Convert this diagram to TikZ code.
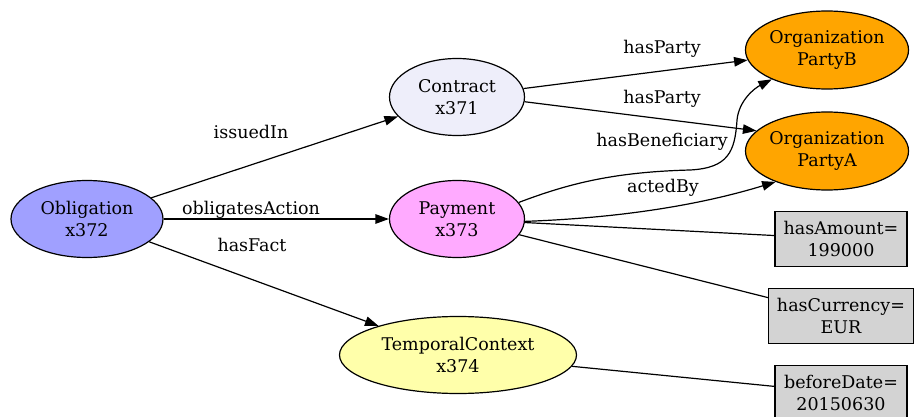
\documentclass[tikz,border=0pt]{standalone}
\usepackage{fontspec}
\setmainfont{DejaVu Serif}
\definecolor{oblcolor}{RGB}{160,160,255}
\definecolor{concolor}{RGB}{238,238,250}
\definecolor{paycolor}{RGB}{255,170,255}
\definecolor{tmpcolor}{RGB}{255,255,170}
\definecolor{orgcolor}{RGB}{255,165,0}
\definecolor{litcolor}{RGB}{211,211,211}
\usetikzlibrary{arrows.meta, shapes.geometric}

\begin{document}
\begin{tikzpicture}[x=1pt, y=-1pt, line width=1.2pt,
    every node/.style={font=\fontsize{17.5}{22}\selectfont},
    obj/.style={ellipse, draw, inner sep=0pt, align=center, minimum height=77pt},
    lit/.style={rectangle, draw, fill=litcolor, align=center, minimum height=55pt, inner xsep=8pt},
    rel/.style={-{Triangle[length=13.5pt, width=9.5pt]}},
    lbl/.style={anchor=base}]
    \useasboundingbox (0,0) rectangle (924,417);

    \node[obj, fill=oblcolor, minimum width=152pt] (obl) at (87,219) {Obligation\\x372};
    \node[obj, fill=concolor, minimum width=135pt] (con) at (457,97) {Contract\\x371};
    \node[obj, fill=paycolor, minimum width=135pt] (pay) at (457,219) {Payment\\x373};
    \node[obj, fill=tmpcolor, minimum width=237pt] (tmp) at (458,355) {TemporalContext\\x374};
    \node[obj, fill=orgcolor, minimum width=158pt, minimum height=78pt] (pb) at (827,50) {Organization\\PartyB};
    \node[obj, fill=orgcolor, minimum width=158pt, minimum height=78pt] (pa) at (827,151) {Organization\\PartyA};
    \node[lit, minimum width=132pt] (amt) at (841,239) {hasAmount=\\199000};
    \node[lit, minimum width=145pt] (cur) at (841,316) {hasCurrency=\\EUR};
    \node[lit, minimum width=132pt] (dat) at (841,393) {beforeDate=\\20150630};

    \draw[rel] (obl) -- (con);
    \draw[rel] (obl) -- (pay);
    \draw[rel] (obl) -- (tmp);
    \draw[rel] (con) -- (pb);
    \draw[rel] (con.-4) -- (pa.164);
    \draw[rel] (pay.15) .. controls (570,183) and (615,172) .. (690,170)
        .. controls (728,168) and (735,152) .. (737,120)
        .. controls (739,100) and (755,88) .. (pb.208);
    \draw[rel] (pay.-2) .. controls (620,218) and (700,205) .. (pa.211);
    \draw (pay) -- (amt);
    \draw (pay) -- (cur);
    \draw (tmp) -- (dat);

    \node[lbl] (l1) at (251,139) {issuedIn};
    \node[lbl] (l2) at (251,214) {obligatesAction};
    \node[lbl] (l3) at (252,251) {hasFact};
    \node[lbl] (l4) at (662,54) {hasParty};
    \node[lbl] (l5) at (662,104) {hasParty};
    \node[lbl] (l6) at (662,147) {hasBeneficiary};
    \node[lbl] (l7) at (663,193) {actedBy};
\end{tikzpicture}
\end{document}
